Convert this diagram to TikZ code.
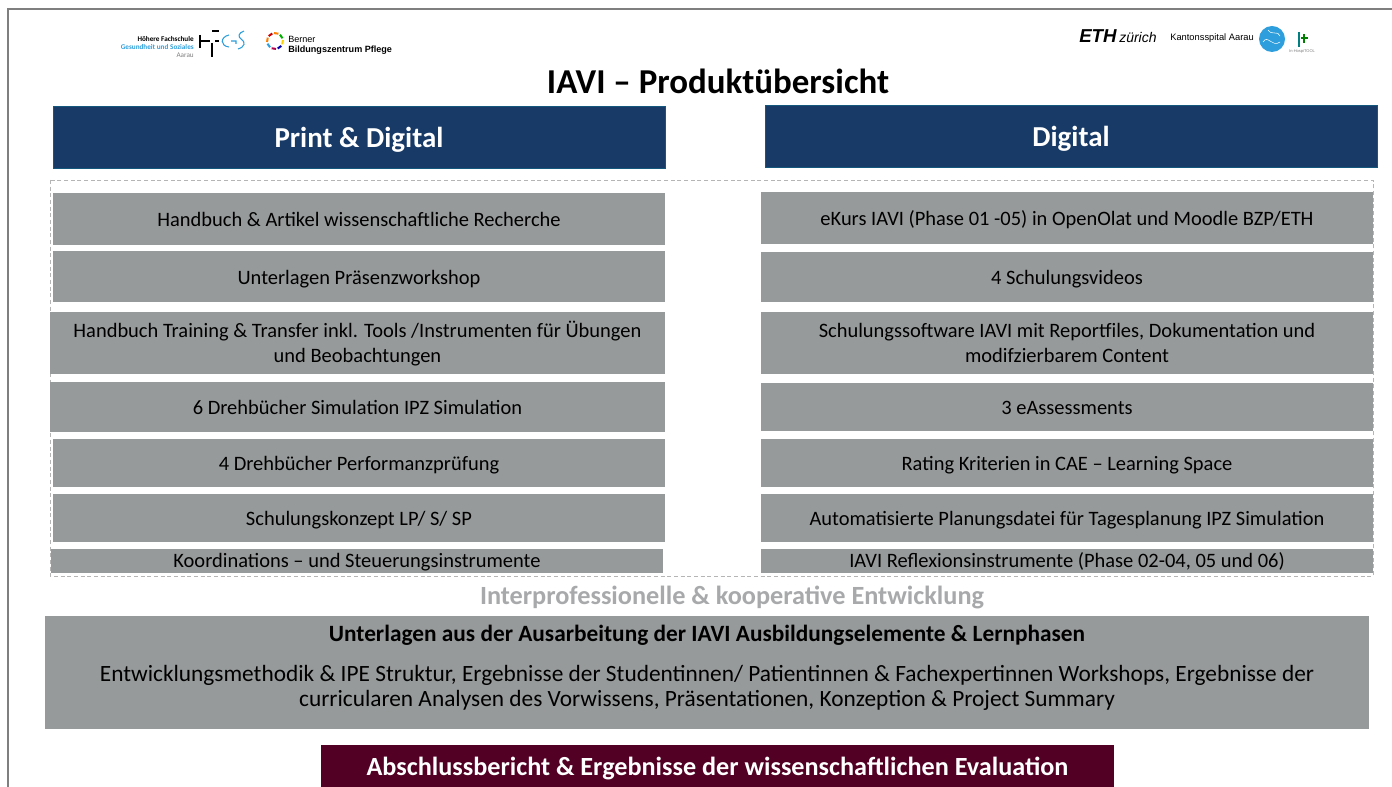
\documentclass[tikz,border=0pt]{standalone}
\usepackage{fontspec}
\setmainfont{Carlito}
\newfontfamily\logofont{Liberation Sans}
\definecolor{navy}{HTML}{173A67}
\definecolor{boxgray}{HTML}{979A9B}
\definecolor{maroon}{HTML}{520023}
\definecolor{framegray}{HTML}{7F7F7F}
\definecolor{dashgray}{HTML}{B5B5B5}
\definecolor{hfblue}{HTML}{2E9FDC}
\newcommand{\st}{\rule{0pt}{1.0em}}
\newcommand{\stb}{\rule[-0.3em]{0pt}{0.3em}}
\tikzset{x=0.75pt,y=-0.75pt,
 hdr/.style={draw=navy!85!cyan,line width=0.5pt,fill=navy,text=white,font=\fontsize{21.7}{26}\selectfont\bfseries,minimum height=47pt,minimum width=459pt,align=center,inner sep=0pt},
 gbox/.style={fill=boxgray,font=\fontsize{15.35}{18.75}\selectfont,align=center,inner sep=0pt},
 lg/.style={inner sep=0pt,align=center}}
\newcommand{\gb}[6]{\node[gbox,minimum width=#3*0.75pt,minimum height=#4*0.75pt] (#1) at (#2,#5) {\st #6\stb};}
\newcommand{\gbs}[6]{\node[gbox,minimum width=#3*0.75pt,minimum height=#4*0.75pt] (#1) at (#2,#5) {\raisebox{-4.8pt}[0pt][0pt]{#6}};}
\begin{document}
\begin{tikzpicture}
\useasboundingbox (0,0) rectangle (1392,787);
\fill[white] (0,0) rectangle (1392,787);
\coordinate (fa) at (8,787); \coordinate (fb) at (8,9); \coordinate (fc) at (1392,9);
\draw[framegray,line width=1pt] (fa) -- (fb) -- (fc);
% logos left
\node[lg,anchor=east,font=\fontsize{5.4}{6.1}\selectfont\bfseries,align=right] (hf) at (194,47) {Höhere Fachschule\\\textcolor{hfblue}{Gesundheit und Soziales}\\\mdseries\textcolor{gray}{Aarau}};
\draw[black,line width=0.8pt] (200,35)--(200,48) (200,41)--(210,41) (212,31)--(219,31) (215,41)--(219,41) (212,43)--(212,57);
\draw[hfblue,line width=0.8pt] (229,35) .. controls (220,37) and (220,46) .. (229,47) (231,41)--(236,41)--(236,44) (244,31) .. controls (238,33) and (238,37) .. (241,39) .. controls (246,42) and (245,47) .. (238,49);
\foreach \a/\c in {20/green!70!black,65/orange,110/red!80!black,155/orange,200/hfblue,245/red!70!blue,290/blue!70!black,335/yellow!70!orange}
  \draw[\c,line width=1.5pt] ([shift={(\a:6pt)}]275,41) arc[start angle=\a,end angle=\a+32,radius=6pt];
\node[lg,anchor=west,font=\fontsize{6.8}{7.4}\selectfont\logofont,align=left] (bz) at (288,45) {Berner\\\textbf{Bildungszentrum Pflege}};
% logos right
\node[lg,anchor=west,font=\logofont] (eth) at (1079,36) {{\fontsize{14}{14}\selectfont\textbf{\textit{ETH}}}{\fontsize{10.5}{14}\selectfont\textit{\,zürich}}};
\node[lg,anchor=west,font=\fontsize{7}{8}\selectfont\logofont] (ksa) at (1170,38) {Kantonsspital Aarau};
\fill[hfblue] (1272,39) circle[radius=13];
\draw[white,line width=0.4pt] (1263,42) .. controls (1268,34) and (1272,48) .. (1280,42) (1268,30) .. controls (1272,36) and (1278,30) .. (1280,36);
\draw[teal,line width=1pt] (1299,32)--(1299,47);
\draw[green!50!black,line width=1pt] (1304,34)--(1304,43) (1301,38)--(1308,38);
\node[lg,font=\fontsize{3}{3}\selectfont\logofont,text=gray] (ihp) at (1302,51) {In-HospiTOOL};
% title
\node[lg,font=\fontsize{26.2}{30}\selectfont\bfseries] (title) at (718,81) {IAVI – Produktübersicht};
% headers
\node[hdr] (h1) at (359,137.5) {\st Print \& Digital\stb};
\node[hdr] (h2) at (1071,136.5) {\st Digital\stb};
% dashed frame
\draw[dashgray,densely dashed,line width=0.7pt] (50,180) rectangle (1373,576);
% left boxes
\gb{l1}{359}{612}{52}{219}{Handbuch \& Artikel wissenschaftliche Recherche}
\gb{l2}{359}{612}{51}{277}{Unterlagen Präsenzworkshop}
\gb{l3}{357.5}{615}{62}{343}{Handbuch Training \& Transfer inkl. Tools /Instrumenten für Übungen\\und Beobachtungen}
\gb{l4}{357.5}{615}{50}{407}{6 Drehbücher Simulation IPZ Simulation}
\gb{l5}{359}{612}{48}{463}{4 Drehbücher Performanzprüfung}
\gb{l6}{359}{612}{48}{518}{Schulungskonzept LP/ S/ SP}
\gbs{l7}{357}{612}{24}{561}{Koordinations – und Steuerungsinstrumente}
% right boxes
\gb{r1}{1067}{612}{52}{218}{eKurs IAVI (Phase 01 -05) in OpenOlat und Moodle BZP/ETH}
\gb{r2}{1067}{612}{50}{277}{4 Schulungsvideos}
\gb{r3}{1067}{612}{62}{343}{Schulungssoftware IAVI mit Reportfiles, Dokumentation und\\modifzierbarem Content}
\gb{r4}{1067}{612}{48}{407}{3 eAssessments}
\gb{r5}{1067}{612}{48}{463}{Rating Kriterien in CAE – Learning Space}
\gb{r6}{1067}{612}{48}{518}{Automatisierte Planungsdatei für Tagesplanung IPZ Simulation}
\gbs{r7}{1067}{612}{24}{561}{IAVI Reflexionsinstrumente (Phase 02-04, 05 und 06)}
% bottom
\node[lg,font=\fontsize{19.7}{24}\selectfont\bfseries,text=boxgray!85!white] (ip) at (732,597) {Interprofessionelle \& kooperative Entwicklung};
\node[gbox,minimum width=993pt,minimum height=85pt] (big) at (707,672.5) {};
\node[lg,font=\fontsize{17.5}{21}\selectfont\bfseries] (bigt) at (707,635) {Unterlagen aus der Ausarbeitung der IAVI Ausbildungselemente \& Lernphasen};
\node[lg,font=\fontsize{17.5}{19}\selectfont] (bigb) at (707,688) {Entwicklungsmethodik \& IPE Struktur, Ergebnisse der Studentinnen/ Patientinnen \& Fachexpertinnen Workshops, Ergebnisse der\\curricularen Analysen des Vorwissens, Präsentationen, Konzeption \& Project Summary};
\node[fill=maroon,text=white,inner sep=0pt,minimum width=595pt,minimum height=31.5pt,font=\fontsize{19.65}{24}\selectfont\bfseries] (end) at (717.5,766) {\st Abschlussbericht \& Ergebnisse der wissenschaftlichen Evaluation\stb};
\end{tikzpicture}
\end{document}
